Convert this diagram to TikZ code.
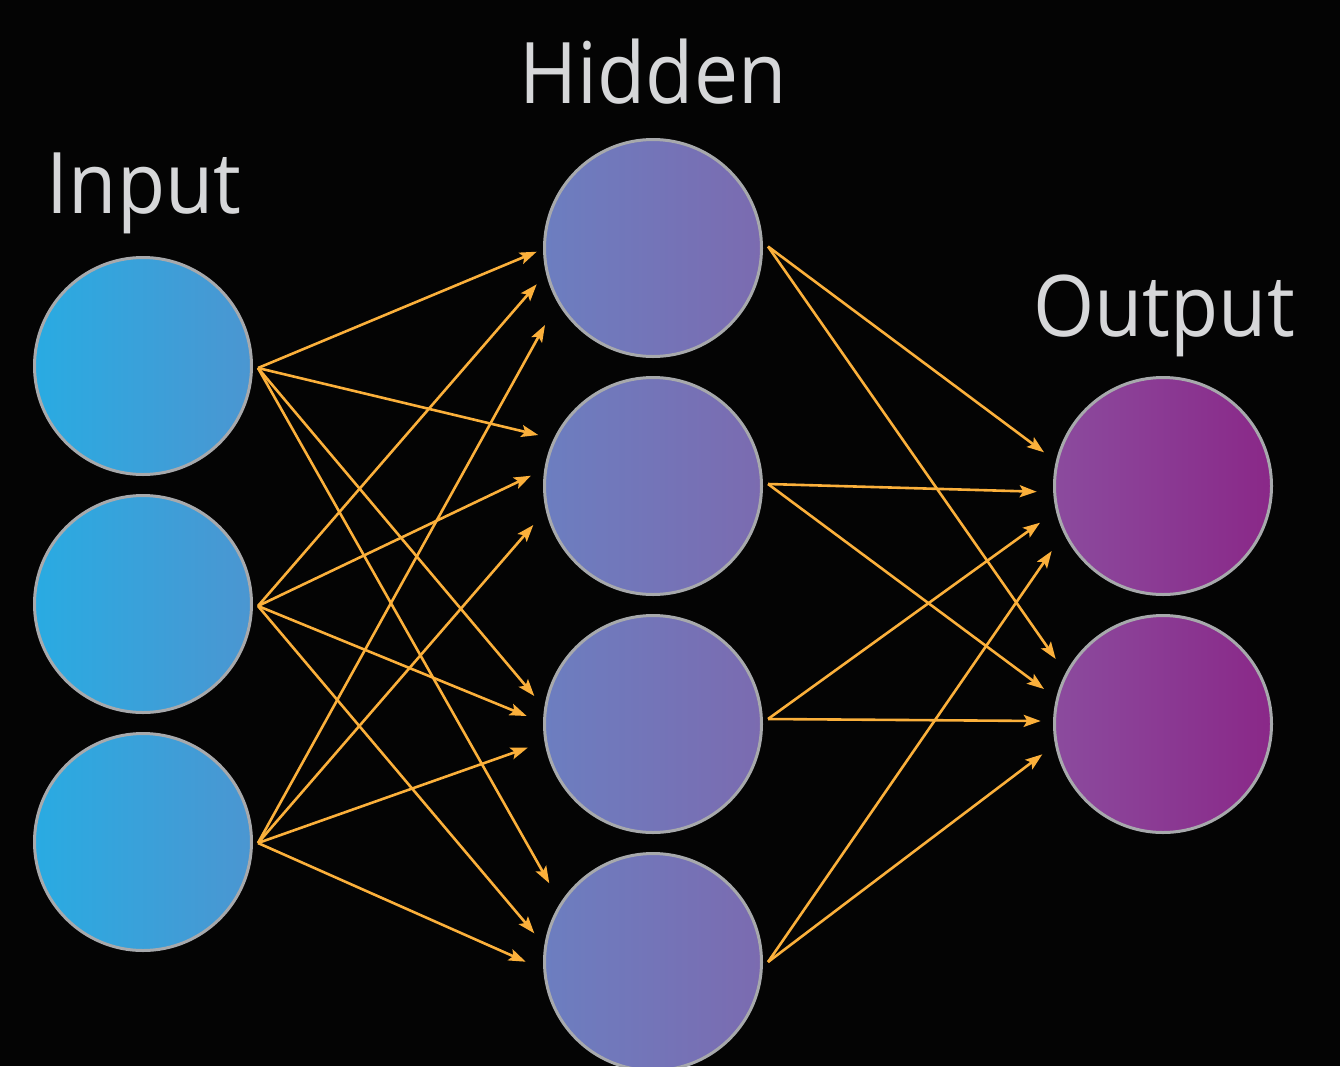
\documentclass[tikz,border=0pt]{standalone}
\usepackage{fontspec}
\setmainfont{Open Sans}[FakeStretch=0.925]
\usetikzlibrary{arrows.meta}
\definecolor{bg}{HTML}{040404}
\definecolor{ringgray}{HTML}{A7A9AC}
\definecolor{arrowc}{HTML}{FBB03B}
\definecolor{labelc}{HTML}{D6D7D9}
\definecolor{inL}{HTML}{29ABE2}
\definecolor{inR}{HTML}{4B96D1}
\definecolor{hidL}{HTML}{6C7EC0}
\definecolor{hidR}{HTML}{7B6BB0}
\definecolor{outL}{HTML}{8B4B9E}
\definecolor{outR}{HTML}{8A2888}
\begin{document}
\begin{tikzpicture}[x=1pt,y=-1pt,
  neuron/.style={circle, minimum size=217pt, inner sep=0pt, draw=ringgray, line width=3pt},
  inneuron/.style={neuron, left color=inL, right color=inR},
  hidneuron/.style={neuron, left color=hidL, right color=hidR},
  outneuron/.style={neuron, left color=outL, right color=outR},
  conn/.style={draw=arrowc, line width=2.6pt, -{Stealth[length=17pt,width=12pt,inset=3.5pt]}},
  lbl/.style={text=labelc, font=\fontsize{85}{100}\selectfont, anchor=base, inner sep=0pt}]
\useasboundingbox (0,0) rectangle (1340,1066);
\fill[bg] (0,0) rectangle (1340,1066);

% labels
\node[lbl] (linput) at (144,213) {Input};
\node[lbl] (lhidden) at (653,103) {Hidden};
\node[lbl] (loutput) at (1164,336) {Output};

% neurons
\node[inneuron] (i1) at (143,366) {};
\node[inneuron] (i2) at (143,604) {};
\node[inneuron] (i3) at (143,842) {};
\node[hidneuron] (h1) at (653,248) {};
\node[hidneuron] (h2) at (653,486) {};
\node[hidneuron] (h3) at (653,724) {};
\node[hidneuron] (h4) at (653,962) {};
\node[outneuron] (o1) at (1163,486) {};
\node[outneuron] (o2) at (1163,724) {};

% start points
\coordinate (si1) at (258,368);
\coordinate (si2) at (258,606);
\coordinate (si3) at (258,843);
\coordinate (sh1) at (768,246.5);
\coordinate (sh2) at (768,484);
\coordinate (sh3) at (768,719);
\coordinate (sh4) at (768,962);

% arrow tips into hidden layer (t<hidden><input>)
\coordinate (t11) at (536.7,251.7);
\coordinate (t12) at (536.7,284.3);
\coordinate (t13) at (545,325);
\coordinate (t21) at (538.3,435);
\coordinate (t22) at (531,475.7);
\coordinate (t23) at (533.3,525);
\coordinate (t31) at (534.3,696);
\coordinate (t32) at (526.7,716);
\coordinate (t33) at (527.7,747.7);
\coordinate (t41) at (549.3,883.3);
\coordinate (t42) at (534.3,933.3);
\coordinate (t43) at (525.7,961.7);
% arrow tips into output layer (u<output><hidden>)
\coordinate (u11) at (1044,452.3);
\coordinate (u12) at (1036.7,491.7);
\coordinate (u13) at (1040,522.7);
\coordinate (u14) at (1051.7,551);
\coordinate (u21) at (1055.7,659);
\coordinate (u22) at (1044,689);
\coordinate (u23) at (1040.7,721);
\coordinate (u24) at (1042.3,754.3);

\foreach \h in {1,2,3,4}{
  \foreach \i in {1,2,3}{
    \draw[conn] (si\i) -- (t\h\i);
  }
}
\foreach \o in {1,2}{
  \foreach \h in {1,2,3,4}{
    \draw[conn] (sh\h) -- (u\o\h);
  }
}
\end{tikzpicture}
\end{document}
